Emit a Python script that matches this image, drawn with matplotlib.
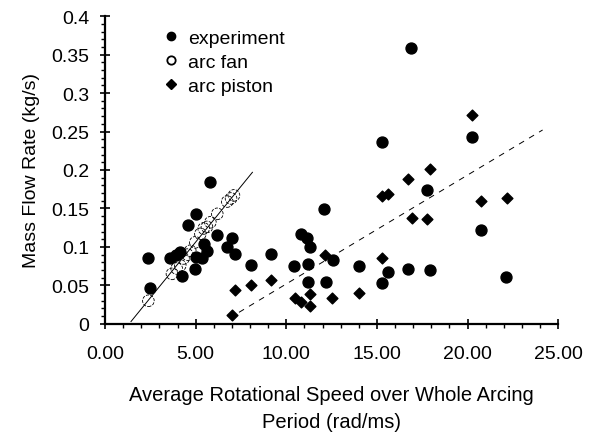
import matplotlib
matplotlib.use("Agg")
import numpy as np
from matplotlib import pyplot as plt
from matplotlib.lines import Line2D
from matplotlib.ticker import MultipleLocator, FuncFormatter

plt.rcParams['font.family'] = ['Liberation Sans', 'DejaVu Sans']

# experiment (filled circles)
exp_x = [2.35, 2.48, 3.56, 3.9, 4.11, 4.24, 4.57, 5.0, 4.98, 5.0, 5.35, 5.45, 5.63,
         5.81, 6.19, 6.7, 6.98, 7.15, 8.04, 9.15, 10.44, 10.81, 11.13, 11.31, 11.22,
         11.19, 12.06, 12.57, 12.17, 14.0, 15.26, 15.26, 15.63, 16.7, 16.89, 17.76,
         17.94, 20.22, 20.72, 22.11]
exp_y = [0.085, 0.046, 0.085, 0.09, 0.093, 0.062, 0.128, 0.143, 0.071, 0.087, 0.086,
         0.104, 0.095, 0.185, 0.115, 0.100, 0.111, 0.091, 0.076, 0.091, 0.075, 0.117,
         0.112, 0.100, 0.078, 0.055, 0.149, 0.083, 0.055, 0.075, 0.236, 0.053, 0.067,
         0.071, 0.358, 0.174, 0.070, 0.243, 0.122, 0.061]

# arc fan (open circles)
fan_x = [2.39, 3.69, 3.95, 4.15, 4.33, 4.55, 4.70, 4.98, 5.26, 5.44, 5.62, 5.81, 6.19, 6.74, 6.95, 7.11]
fan_y = [0.030, 0.065, 0.072, 0.076, 0.085, 0.090, 0.095, 0.106, 0.117, 0.124, 0.126, 0.132, 0.143, 0.159, 0.163, 0.167]

# arc piston (diamonds)
pis_x = [7.02, 7.17, 8.04, 9.15, 10.48, 10.81, 11.31, 11.28, 12.52, 12.11, 14.0, 15.26,
         15.26, 15.63, 16.74, 17.94, 16.93, 17.76, 20.22, 20.72, 22.15]
pis_y = [0.011, 0.044, 0.051, 0.057, 0.033, 0.029, 0.039, 0.023, 0.034, 0.090, 0.040,
         0.085, 0.166, 0.169, 0.188, 0.201, 0.138, 0.136, 0.271, 0.160, 0.163]

# trend lines (end points)
fan_fit_x = [1.43, 8.13]
fan_fit_y = [0.003, 0.197]
pis_fit_x = [7.39, 24.14]
pis_fit_y = [0.015, 0.252]

fig = plt.figure(figsize=(5.97, 4.39), dpi=100)
ax = fig.add_axes([0.176, 0.26, 0.759, 0.701])

ax.plot(fan_fit_x, fan_fit_y, color='black', lw=0.7)
ax.plot(pis_fit_x, pis_fit_y, color='black', lw=0.7, ls=(0, (6, 6)))

ax.scatter(exp_x, exp_y, s=62, color='black', zorder=3)
ax.scatter(fan_x, fan_y, s=70, facecolors='none', edgecolors='black',
           linewidths=0.6, linestyle='--', zorder=4)
ax.scatter(pis_x, pis_y, s=30, marker='D', color='black', zorder=3)

ax.set_xlim(0, 25)
ax.set_ylim(0, 0.4)
ax.xaxis.set_major_locator(MultipleLocator(5))
ax.xaxis.set_minor_locator(MultipleLocator(1))
ax.yaxis.set_major_locator(MultipleLocator(0.05))
ax.yaxis.set_minor_locator(MultipleLocator(0.01))
ax.xaxis.set_major_formatter(FuncFormatter(lambda v, p: f"{v:.2f}"))
ax.yaxis.set_major_formatter(FuncFormatter(lambda v, p: f"{v:g}"))

for s in ['top', 'right']:
    ax.spines[s].set_visible(False)
for s in ['left', 'bottom']:
    ax.spines[s].set_linewidth(1.6)

ax.tick_params(which='major', direction='inout', length=7, width=1.2, labelsize=14)
ax.tick_params(axis='x', which='major', pad=12)
ax.tick_params(axis='y', which='major', pad=8)
ax.tick_params(which='minor', direction='out', length=3, width=1.0)

ax.set_xlabel("Average Rotational Speed over Whole Arcing\nPeriod (rad/ms)",
              fontsize=14.5, labelpad=16, linespacing=1.55)
ax.set_ylabel("Mass Flow Rate (kg/s)", fontsize=14, labelpad=8)

# legend uses small solid markers like the original
handles = [
    Line2D([], [], ls='none', marker='o', ms=6, color='black'),
    Line2D([], [], ls='none', marker='o', ms=6, mfc='white', mec='black', mew=1.3),
    Line2D([], [], ls='none', marker='D', ms=5, color='black'),
]
labels = ['experiment', 'arc fan', 'arc piston']
ax.legend(handles, labels, loc='upper left', bbox_to_anchor=(0.09, 1.008),
          frameon=False, fontsize=14, handletextpad=0.35, handlelength=1.0,
          labelspacing=0.33, borderpad=0.3)

fig.savefig("out.png", dpi=100)
